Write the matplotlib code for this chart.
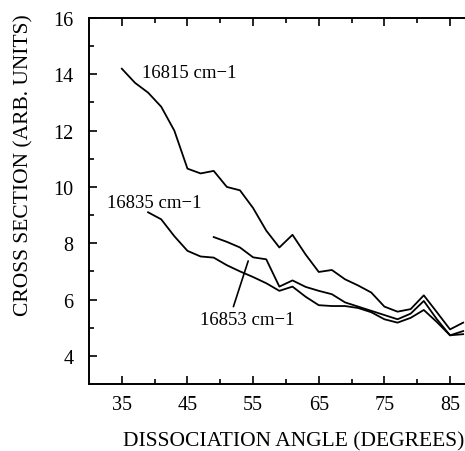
import matplotlib
matplotlib.use("Agg")
import matplotlib.pyplot as plt

# dissociation angle (degrees), one point every 2 degrees
angle_15 = [35, 37, 39, 41, 43, 45, 47, 49, 51, 53, 55, 57, 59, 61, 63, 65, 67,
            69, 71, 73, 75, 77, 79, 81, 83, 85, 87]
cs_16815 = [14.2, 13.7, 13.35, 12.85, 12.0, 10.65, 10.48, 10.57, 10.0, 9.88,
            9.25, 8.45, 7.85, 8.3, 7.6, 6.98, 7.05, 6.72, 6.5, 6.25, 5.75,
            5.57, 5.66, 6.15, 5.55, 4.94, 5.18]

angle_35 = [39, 41, 43, 45, 47, 49, 51, 53, 55, 57, 59, 61, 63, 65, 67, 69, 71,
            73, 75, 77, 79, 81, 83, 85, 87]
cs_16835 = [9.1, 8.85, 8.25, 7.73, 7.53, 7.49, 7.22, 7.0, 6.8, 6.58, 6.31,
            6.46, 6.1, 5.8, 5.77, 5.77, 5.7, 5.55, 5.3, 5.18, 5.35, 5.63,
            5.2, 4.73, 4.77]

angle_53 = [49, 51, 53, 55, 57, 59, 61, 63, 65, 67, 69, 71, 73, 75, 77, 79, 81,
            83, 85, 87]
cs_16853 = [8.22, 8.05, 7.85, 7.5, 7.43, 6.46, 6.68, 6.45, 6.31, 6.19, 5.9,
            5.75, 5.6, 5.45, 5.3, 5.5, 5.95, 5.3, 4.73, 4.88]

x_major = [35, 45, 55, 65, 75, 85]
x_minor = [40, 50, 60, 70, 80]
y_major = [4, 6, 8, 10, 12, 14, 16]
y_minor = [5, 7, 9, 11, 13, 15]

plt.rcParams['font.family'] = ['Liberation Serif', 'DejaVu Serif']

fig = plt.figure(figsize=(4.65, 4.52), dpi=100)
# the right part of the frame is cut off in the original, so the axes run past the figure
ax = fig.add_axes([0.1914, 0.1482, 0.847, 0.8097])

ax.plot(angle_15, cs_16815, color="black", lw=1.3)
ax.plot(angle_35, cs_16835, color="black", lw=1.3)
ax.plot(angle_53, cs_16853, color="black", lw=1.3)

ax.text(38.0, 14.08, "16815 cm\u22121", fontsize=13.5, va="center", ha="left")
ax.text(32.7, 9.46, "16835 cm\u22121", fontsize=13.5, va="center", ha="left")
ax.annotate("16853 cm\u22121", xy=(54.25, 7.37), xytext=(46.9, 5.30),
            fontsize=13.5, va="center", ha="left",
            arrowprops=dict(arrowstyle="-", color="black", lw=1.2,
                            shrinkA=1, shrinkB=0, relpos=(0.34, 1.0)))

ax.set_xlim(30, 90)
ax.set_ylim(3, 16)
ax.set_xticks(x_major)
ax.set_xticks(x_minor, minor=True)
ax.set_yticks(y_major)
ax.set_yticks(y_minor, minor=True)

ax.tick_params(which="both", direction="in", top=True, right=False, width=1.2)
ax.tick_params(which="major", length=6, labelsize=14.5)
ax.tick_params(which="minor", length=3.5)
ax.tick_params(axis="y", pad=11)
ax.tick_params(axis="x", pad=8)
for s in ax.spines.values():
    s.set_linewidth(1.4)

ax.set_xlabel("DISSOCIATION ANGLE (DEGREES)", fontsize=15.5)
ax.set_ylabel("CROSS SECTION (ARB. UNITS)", fontsize=15.5)
ax.xaxis.set_label_coords(0.52, -0.128)
ax.yaxis.set_label_coords(-0.142, 0.60)

fig.savefig("out.png", dpi=100)
